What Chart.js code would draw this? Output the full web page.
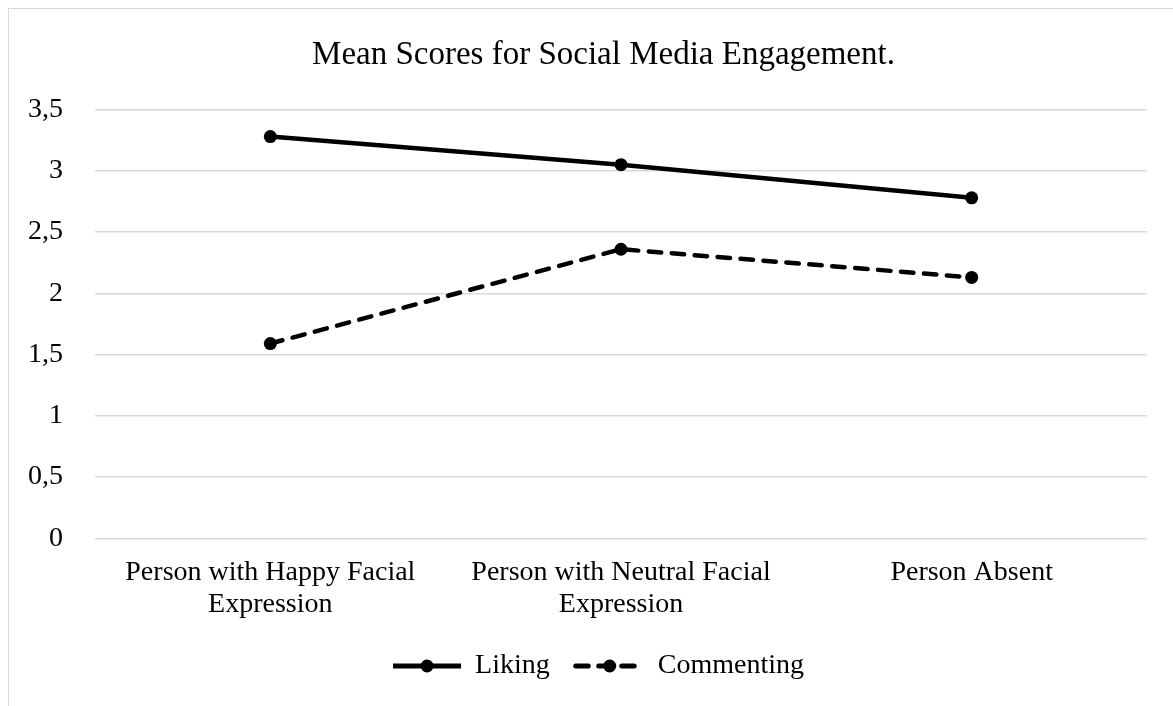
<!DOCTYPE html>
<html>
<head>
<meta charset="utf-8">
<script src="https://cdn.jsdelivr.net/npm/chart.js@4/dist/chart.umd.min.js"></script>
<style>
  html, body { margin: 0; padding: 0; background: #fff; overflow: hidden; }
  #frame { position: absolute; left: 8px; top: 8px; width: 1300px; height: 800px;
           border-left: 1.5px solid #d9d9d9; border-top: 1.5px solid #d9d9d9; }
  #wrap { position: absolute; left: 0; top: 0; width: 1173px; height: 706px; }
</style>
</head>
<body>
<div id="frame"></div>
<div id="wrap"><canvas id="grafico"></canvas></div>
<script>
// dados
const categorias = [
  ["Person with Happy Facial", "Expression"],
  ["Person with Neutral Facial", "Expression"],
  "Person Absent"
];
const liking = [3.28, 3.05, 2.78];
const commenting = [1.59, 2.36, 2.13];
const yTicks = [0, 0.5, 1, 1.5, 2, 2.5, 3, 3.5];

const fonte = "'Liberation Serif', 'Times New Roman', serif";

// desenha a bolinha no meio do símbolo da legenda
const legendaPontos = {
  id: "legendaPontos",
  afterDraw(chart) {
    const leg = chart.legend;
    if (!leg || !leg.legendHitBoxes) return;
    const ctx = chart.ctx;
    const bw = leg.options.labels.boxWidth;
    const fs = leg.options.labels.font.size;
    leg.legendHitBoxes.forEach((box) => {
      ctx.save();
      ctx.fillStyle = "#000";
      ctx.beginPath();
      ctx.arc(box.left + bw / 2, box.top + fs / 2, 6.5, 0, Math.PI * 2);
      ctx.fill();
      ctx.restore();
    });
  },
};

// título e legenda no original ficam um pouco à direita do centro
const deslocamentos = {
  id: "deslocamentos",
  afterLayout(chart) {
    const t = chart.titleBlock;
    if (t) t.left += 34;
    const l = chart.legend;
    if (l) {
      l.left += 12;
      l.right += 12;
    }
  },
};

const ctx = document.getElementById("grafico").getContext("2d");

new Chart(ctx, {
  type: "line",
  data: {
    labels: categorias,
    datasets: [
      {
        label: "Liking",
        data: liking,
        borderColor: "#000",
        backgroundColor: "#000",
        borderWidth: 4.5,
        pointRadius: 6.5,
        pointHoverRadius: 6.5,
        pointBackgroundColor: "#000",
        pointBorderWidth: 0,
        tension: 0,
      },
      {
        label: "Commenting",
        data: commenting,
        borderColor: "#000",
        backgroundColor: "#000",
        borderWidth: 4.5,
        borderDash: [12.5, 10.5],
        borderCapStyle: "round",
        pointRadius: 6.5,
        pointHoverRadius: 6.5,
        pointBackgroundColor: "#000",
        pointBorderWidth: 0,
        tension: 0,
      },
    ],
  },
  options: {
    responsive: true,
    maintainAspectRatio: false,
    animation: false,
    devicePixelRatio: 1,
    layout: { padding: { left: 26, right: 26, top: 0, bottom: 16 } },
    scales: {
      x: {
        offset: true,
        grid: { display: false, drawTicks: false },
        border: { display: false },
        afterFit: (scale) => {
          scale.height -= 13;
        },
        ticks: {
          color: "#000",
          font: { family: fonte, size: 28, lineHeight: 1.12 },
          padding: 19,
          maxRotation: 0,
          autoSkip: false,
        },
      },
      y: {
        min: 0,
        max: 3.5,
        afterBuildTicks: (scale) => {
          scale.ticks = yTicks.map((v) => ({ value: v }));
        },
        afterFit: (scale) => {
          // o Chart.js reserva o padding dos dois lados; tira o da esquerda
          scale.width -= 30;
        },
        grid: { color: "#d9d9d9", lineWidth: 1.5, drawTicks: false },
        border: { display: false },
        ticks: {
          color: "#000",
          font: { family: fonte, size: 28 },
          padding: 32,
          callback: (v) => String(v).replace(".", ","),
        },
      },
    },
    plugins: {
      title: {
        display: true,
        text: "Mean Scores for Social Media Engagement.",
        color: "#000",
        font: { family: fonte, size: 33, weight: "normal" },
        padding: { top: 36, bottom: 34 },
      },
      legend: {
        position: "bottom",
        labels: {
          color: "#000",
          font: { family: fonte, size: 28 },
          usePointStyle: true,
          pointStyle: "line",
          pointStyleWidth: 68,
          boxWidth: 68,
          boxHeight: 5,
          padding: 26,
          generateLabels: (chart) =>
            chart.data.datasets.map((ds, i) => ({
              text: ds.label,
              fillStyle: "#000",
              strokeStyle: "#000",
              fontColor: "#000",
              lineWidth: 5,
              lineDash: ds.borderDash || [],
              lineCap: ds.borderCapStyle || "butt",
              pointStyle: "line",
              hidden: false,
              datasetIndex: i,
            })),
        },
      },
      tooltip: { enabled: false },
    },
  },
  plugins: [legendaPontos, deslocamentos],
});
</script>
</body>
</html>
